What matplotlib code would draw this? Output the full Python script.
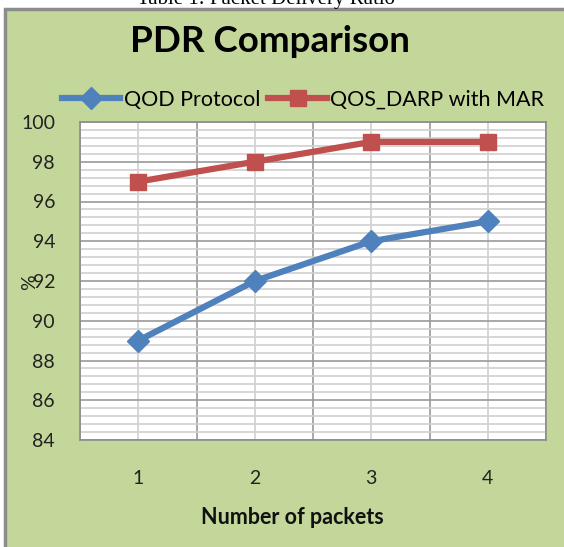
import matplotlib.pyplot as plt
from matplotlib.patches import Rectangle
from matplotlib.ticker import MultipleLocator

packets = [1, 2, 3, 4]
qod = [89, 92, 94, 95]
qos_darp = [97, 98, 99, 99]
y_ticks = [84, 86, 88, 90, 92, 94, 96, 98, 100]

plt.rcParams['font.family'] = ['Lato', 'DejaVu Sans']

W, H = 564, 547
fig = plt.figure(figsize=(W / 100, H / 100), dpi=100)
fig.patch.set_facecolor('white')

# green chart area with gray border
fig.patches.append(Rectangle((5 / W, -0.01), 1, 1 - 9 / H + 0.01, transform=fig.transFigure,
                             facecolor='#C4D79B', edgecolor='#8C8C8C', linewidth=2.5, zorder=-10))

# caption cut off at top of page
fig.text(266 / W, 1 - 4 / H, 'Table 1: Packet Delivery Ratio', ha='center', va='baseline',
         fontsize=15, family=['Liberation Serif', 'DejaVu Serif'], color='black')

ax = fig.add_axes([80 / W, 1 - 440 / H, 466 / W, 318 / H])
ax.set_facecolor('white')

ax.plot(packets, qod, color='#4F81BD', linewidth=4.5, marker='D', markersize=11,
        label='QOD Protocol', zorder=3)
ax.plot(packets, qos_darp, color='#C0504D', linewidth=4.5, marker='s', markersize=12,
        label='QOS_DARP with MAR', zorder=3)

ax.set_xlim(0.5, 4.5)
ax.set_ylim(84, 100)
ax.set_yticks(y_ticks)
ax.yaxis.set_minor_locator(MultipleLocator(0.4))
ax.set_xticks([0.5, 1.5, 2.5, 3.5, 4.5])
ax.set_xticklabels([])
ax.xaxis.set_minor_locator(MultipleLocator(1))

ax.grid(which='major', color='#9A9A9A', linewidth=1.2)
ax.grid(which='minor', color='#D0D0D0', linewidth=1.2)
ax.set_axisbelow(True)
ax.tick_params(which='both', length=0)
ax.tick_params(axis='y', labelsize=14, pad=18, colors='#222222')
for s in ax.spines.values():
    s.set_color('#8C8C8C')
    s.set_linewidth(1.2)

for p in packets:
    ax.annotate(str(p), xy=(p, 0), xycoords=('data', 'axes fraction'),
                xytext=(0, -28), textcoords='offset points', ha='center', va='center',
                fontsize=14, color='#222222')

fig.text(270 / W, 1 - 42 / H, 'PDR Comparison', ha='center', va='center',
         fontsize=26.5, fontweight='bold', color='black')
fig.text(292 / W, 1 - 518 / H, 'Number of packets', ha='center', va='center',
         fontsize=15.5, fontweight='bold', color='#111111')
fig.text(30 / W, 1 - 282 / H, '%', ha='center', va='center', rotation=90,
         fontsize=14, color='#222222')

fig.legend(loc='center', bbox_to_anchor=(303 / W, 1 - 100 / H), ncol=2, frameon=False,
           fontsize=15.5, handlelength=2.7, columnspacing=0.4, handletextpad=0.15)

fig.savefig('out.png', dpi=100, facecolor=fig.get_facecolor())
